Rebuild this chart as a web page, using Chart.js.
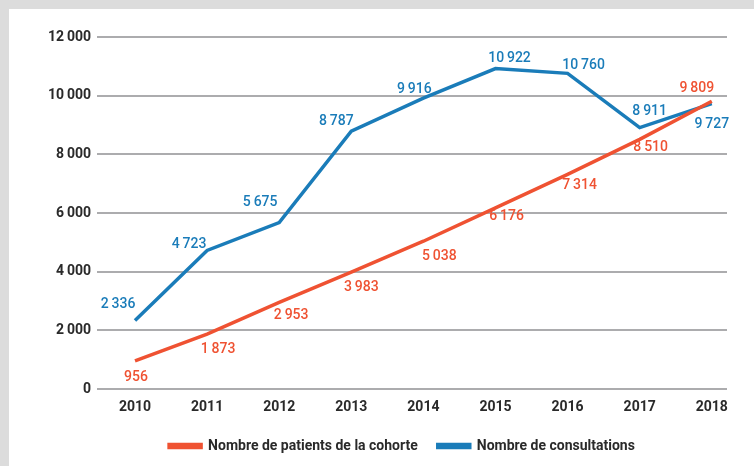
<!DOCTYPE html>
<html>
<head>
<meta charset="utf-8">
<script src="https://cdn.jsdelivr.net/npm/chart.js@4"></script>
<style>
  html, body { margin: 0; padding: 0; overflow: hidden; background: #fff; }
  .frame {
    position: absolute; left: 0; top: 0; width: 754px; height: 466px;
    box-sizing: border-box;
    border-top: 9px solid #dcdcdc; border-left: 9px solid #dcdcdc;
  }
  #chart { position: absolute; left: 45px; top: 9px; }
</style>
</head>
<body>
<div class="frame"></div>
<canvas id="chart" width="709" height="457"></canvas>
<script>
const years = [2010, 2011, 2012, 2013, 2014, 2015, 2016, 2017, 2018];
const patients = [956, 1873, 2953, 3983, 5038, 6176, 7314, 8510, 9809];
const consultations = [2336, 4723, 5675, 8787, 9916, 10922, 10760, 8911, 9727];
const yTicks = [0, 2000, 4000, 6000, 8000, 10000, 12000];

const FONT = 'Roboto, "Noto Sans", sans-serif';
const ORANGE = '#ef5232';
const BLUE = '#1a7cb9';

// where each value label sits relative to its point
const patientsOffsets = [[1, 17], [11, 15], [12, 13], [10, 15], [16, 15], [11, 9], [12, 11], [11, 8], [-15, -13]];
const consultOffsets = [[-17, -16], [-18, -6], [-19, -20], [-15, -10], [-9, -9], [14, -10], [16, -8], [10, -16], [0, 21]];

const fmt = v => v >= 1000
  ? Math.floor(v / 1000) + '\u2009' + String(v % 1000).padStart(3, '0')
  : String(v);

const valueLabels = {
  id: 'valueLabels',
  afterDatasetsDraw(chart) {
    const ctx = chart.ctx;
    ctx.save();
    ctx.font = '500 14px ' + FONT;
    ctx.textAlign = 'center';
    ctx.textBaseline = 'middle';
    chart.data.datasets.forEach((ds, di) => {
      const meta = chart.getDatasetMeta(di);
      meta.data.forEach((pt, i) => {
        const off = ds.labelOffsets[i];
        ctx.fillStyle = ds.borderColor;
        ctx.fillText(fmt(ds.data[i].y), pt.x + off[0], pt.y + off[1]);
      });
    });
    ctx.restore();
  }
};

// legend sits a bit right of the canvas centre in the original
const legendShift = {
  id: 'legendShift',
  afterLayout(chart) {
    chart.legend.left += 16;
    chart.legend.right += 16;
  }
};

new Chart(document.getElementById('chart').getContext('2d'), {
  type: 'line',
  data: {
    datasets: [
      {
        label: 'Nombre de patients de la cohorte',
        data: years.map((yr, i) => ({ x: yr, y: patients[i] })),
        borderColor: ORANGE,
        backgroundColor: ORANGE,
        borderWidth: 3.5,
        pointRadius: 0,
        labelOffsets: patientsOffsets,
      },
      {
        label: 'Nombre de consultations',
        data: years.map((yr, i) => ({ x: yr, y: consultations[i] })),
        borderColor: BLUE,
        backgroundColor: BLUE,
        borderWidth: 3.5,
        pointRadius: 0,
        labelOffsets: consultOffsets,
      },
    ],
  },
  options: {
    responsive: false,
    animation: false,
    layout: { padding: { top: 28, left: 0, right: 27, bottom: 3 } },
    scales: {
      x: {
        type: 'linear',
        min: 2009.473,
        max: 2018.211,
        grid: { display: false, drawTicks: false },
        border: { display: false },
        afterBuildTicks: scale => { scale.ticks = years.map(v => ({ value: v })); },
        afterFit: scale => { scale.height = 30; },
        ticks: {
          padding: 10,
          color: '#2a2a2a',
          font: { family: FONT, size: 14, weight: 'bold' },
          callback: v => String(v),
        },
      },
      y: {
        min: 0,
        max: 12000,
        afterBuildTicks: scale => { scale.ticks = yTicks.map(v => ({ value: v })); },
        afterFit: scale => { scale.width = 52; },
        grid: { color: '#acacae', lineWidth: 2, drawTicks: false },
        border: { display: false },
        ticks: {
          padding: 6,
          color: '#2a2a2a',
          font: { family: FONT, size: 14, weight: 'bold' },
          callback: v => fmt(v),
        },
      },
    },
    plugins: {
      legend: {
        position: 'bottom',
        labels: {
          boxWidth: 32,
          boxHeight: 3,
          padding: 20,
          color: '#2a2a2a',
          font: { family: FONT, size: 14, weight: 'bold' },
        },
      },
      tooltip: { enabled: false },
    },
  },
  plugins: [valueLabels, legendShift],
});
</script>
</body>
</html>
